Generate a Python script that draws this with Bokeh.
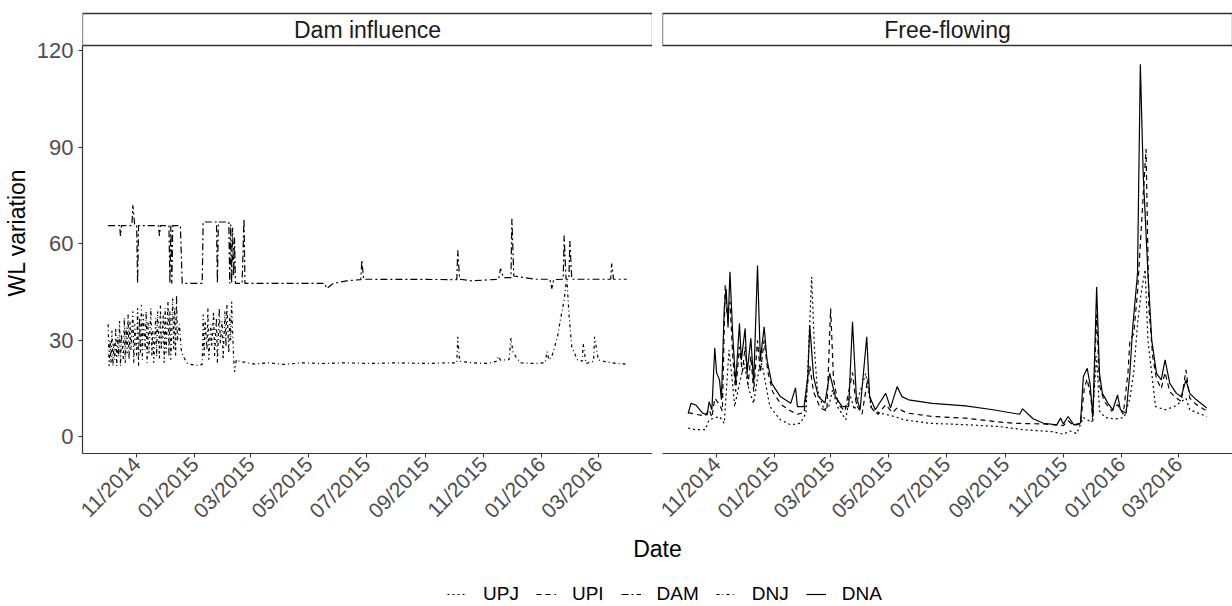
import math
import pandas as pd
from bokeh.plotting import figure
from bokeh.layouts import column, row
from bokeh.models import (Range1d, FixedTicker, DatetimeTickFormatter, Label, BoxAnnotation,
                          Legend, LegendItem, ColumnDataSource)
from bokeh.embed import file_html
from bokeh.resources import INLINE

# ---------------- data ----------------
panels = ["Dam influence", "Free-flowing"]
series_names = ["UPJ", "UPI", "DAM", "DNJ", "DNA"]

tick_dates = ["2014-11-01", "2015-01-01", "2015-03-01", "2015-05-01", "2015-07-01",
              "2015-09-01", "2015-11-01", "2016-01-01", "2016-03-01"]
tick_labels = ["11/2014", "01/2015", "03/2015", "05/2015", "07/2015",
               "09/2015", "11/2015", "01/2016", "03/2016"]
y_ticks = [0, 30, 60, 90, 120]

# Dam influence panel
dam_dates = ["2014-10-02", "2014-10-14", "2014-10-15", "2014-10-16", "2014-10-27", "2014-10-28",
             "2014-10-30", "2014-11-01", "2014-11-02", "2014-11-03", "2014-11-24", "2014-11-25",
             "2014-11-26", "2014-12-05", "2014-12-06", "2014-12-07", "2014-12-08", "2014-12-09",
             "2014-12-17", "2014-12-19", "2015-01-09", "2015-01-10", "2015-01-24", "2015-01-25",
             "2015-01-26", "2015-02-06", "2015-02-07", "2015-02-08", "2015-02-09", "2015-02-10",
             "2015-02-11", "2015-02-12", "2015-02-13", "2015-02-20", "2015-02-22", "2015-02-23",
             "2015-05-18", "2015-05-20", "2015-05-27", "2015-06-10", "2015-06-25", "2015-06-26",
             "2015-06-28", "2015-10-04", "2015-10-05", "2015-10-07", "2015-10-20", "2015-11-17",
             "2015-11-19", "2015-11-22", "2015-11-30", "2015-12-01", "2015-12-03", "2015-12-25",
             "2016-01-10", "2016-01-12", "2016-01-14", "2016-01-24", "2016-01-25", "2016-01-27",
             "2016-01-30", "2016-01-31", "2016-02-02", "2016-03-14", "2016-03-15", "2016-03-17",
             "2016-03-31"]
dam_vals = [65.7, 65.7, 62.5, 65.7, 65.7, 72.0, 65.7, 65.7, 47.7, 65.7, 65.7, 62.5,
            65.7, 65.7, 47.7, 65.7, 47.7, 65.7, 65.7, 47.7, 47.7, 66.8, 66.8, 47.7,
            66.8, 66.8, 47.7, 66.0, 47.7, 65.0, 50.0, 62.0, 47.7, 47.7, 67.8, 47.7,
            47.7, 46.1, 47.7, 48.5, 48.9, 54.9, 49.0, 48.9, 58.0, 49.0, 48.5, 49.0,
            52.3, 49.5, 49.5, 67.8, 50.0, 49.0, 49.0, 46.1, 48.9, 49.0, 62.6, 49.0,
            49.0, 60.9, 49.0, 49.0, 53.9, 49.0, 49.0]

dnj_dates = ["2014-10-02", "2014-10-03", "2014-10-04", "2014-10-05", "2014-10-06", "2014-10-07", "2014-10-08", "2014-10-09", "2014-10-10", "2014-10-11",
             "2014-10-12", "2014-10-13", "2014-10-14", "2014-10-15", "2014-10-16", "2014-10-18", "2014-10-19", "2014-10-20", "2014-10-21", "2014-10-22",
             "2014-10-23", "2014-10-24", "2014-10-25", "2014-10-26", "2014-10-28", "2014-10-29", "2014-10-30", "2014-11-01", "2014-11-02", "2014-11-03",
             "2014-11-04", "2014-11-05", "2014-11-06", "2014-11-07", "2014-11-08", "2014-11-10", "2014-11-11", "2014-11-12", "2014-11-13", "2014-11-14",
             "2014-11-16", "2014-11-17", "2014-11-18", "2014-11-19", "2014-11-21", "2014-11-22", "2014-11-23", "2014-11-25", "2014-11-26", "2014-11-27",
             "2014-11-29", "2014-11-30", "2014-12-01", "2014-12-02", "2014-12-04", "2014-12-05", "2014-12-06", "2014-12-07", "2014-12-09", "2014-12-10",
             "2014-12-11", "2014-12-12", "2014-12-13", "2014-12-14", "2014-12-16", "2014-12-18", "2014-12-20", "2014-12-24", "2014-12-28", "2015-01-05",
             "2015-01-09", "2015-01-10", "2015-01-11", "2015-01-12", "2015-01-14", "2015-01-15", "2015-01-16", "2015-01-18", "2015-01-19", "2015-01-21",
             "2015-01-22", "2015-01-24", "2015-01-25", "2015-01-27", "2015-01-28", "2015-01-30", "2015-01-31", "2015-02-02", "2015-02-03", "2015-02-04",
             "2015-02-06", "2015-02-07", "2015-02-08", "2015-02-09", "2015-02-10", "2015-02-11", "2015-02-12", "2015-02-14", "2015-02-17", "2015-02-22",
             "2015-03-05", "2015-03-20", "2015-04-05", "2015-04-25", "2015-05-15", "2015-06-10", "2015-07-05", "2015-08-01", "2015-09-01", "2015-09-25",
             "2015-10-04", "2015-10-05", "2015-10-07", "2015-10-20", "2015-11-05", "2015-11-15", "2015-11-17", "2015-11-19", "2015-11-28", "2015-11-30",
             "2015-12-02", "2015-12-05", "2015-12-10", "2015-12-25", "2016-01-05", "2016-01-07", "2016-01-09", "2016-01-12", "2016-01-15", "2016-01-18",
             "2016-01-21", "2016-01-25", "2016-01-27", "2016-01-28", "2016-01-30", "2016-02-02", "2016-02-08", "2016-02-13", "2016-02-14", "2016-02-17",
             "2016-02-25", "2016-02-26", "2016-03-01", "2016-03-08", "2016-03-20", "2016-03-31"]
dnj_vals = [35, 22, 30, 23, 33, 22, 29, 24, 34, 22,
            31, 25, 36, 22, 32, 24, 37, 23, 34, 26,
            38, 24, 36, 27, 39, 23, 35, 25, 40, 22,
            37, 26, 41, 24, 38, 27, 39, 23, 36, 26,
            40, 25, 33, 23, 37, 25, 39, 24, 41, 27,
            38, 23, 40, 26, 42, 25, 39, 24, 43, 27,
            40, 25, 44, 30, 35, 27, 25, 23, 22.5, 22.2,
            22.5, 38, 25, 36, 27, 40, 24, 35, 28, 39,
            25, 37, 23, 40, 29, 36, 24, 39, 28, 41,
            26, 38, 30, 42, 33, 25, 20.2, 24, 23.5, 23.2,
            22.6, 23, 22.5, 23, 22.8, 23, 22.8, 23, 22.8, 23,
            23, 31.1, 23.5, 23, 22.8, 23.5, 25, 23.8, 24, 30.7,
            26.5, 25, 23, 22.8, 23, 26.5, 23.9, 25, 28, 31.1,
            36.3, 42.5, 47.7, 48.5, 38.4, 28, 23.9, 23.5, 29, 22.8,
            23.5, 31.1, 23.9, 23.4, 22.8, 22.6]

# Free-flowing panel
upj_dates = ["2014-10-02", "2014-10-10", "2014-10-20", "2014-10-24", "2014-11-04", "2014-11-09", "2014-11-14", "2014-11-16",
             "2014-11-20", "2014-11-25", "2014-11-30", "2014-12-05", "2014-12-10", "2014-12-17", "2014-12-20", "2014-12-27",
             "2015-01-07", "2015-01-18", "2015-01-28", "2015-02-03", "2015-02-09", "2015-02-12", "2015-02-15", "2015-02-22",
             "2015-02-27", "2015-03-03", "2015-03-08", "2015-03-17", "2015-03-21", "2015-03-26", "2015-04-07", "2015-04-13",
             "2015-04-23", "2015-05-07", "2015-05-17", "2015-06-13", "2015-07-25", "2015-08-25", "2015-09-20", "2015-10-20",
             "2015-11-01", "2015-11-08", "2015-11-15", "2015-11-22", "2015-11-26", "2015-12-01", "2015-12-06", "2015-12-09",
             "2015-12-15", "2015-12-25", "2016-01-04", "2016-01-10", "2016-01-14", "2016-01-18", "2016-01-22", "2016-01-26",
             "2016-01-29", "2016-02-02", "2016-02-06", "2016-02-16", "2016-02-26", "2016-03-09", "2016-03-13", "2016-03-31"]
upj_vals = [2.7, 2.2, 2.2, 5.3, 6.3, 4.2, 27.0, 21.8,
            9.4, 16.6, 22.8, 14.6, 10.4, 23.9, 20.8, 9.4,
            5.3, 3.7, 4.2, 7.3, 49.7, 27.0, 14.6, 8.4,
            9.4, 14.6, 9.4, 5.3, 13.5, 8.4, 19.7, 8.4,
            7.3, 6.3, 5.3, 4.2, 3.7, 3.2, 2.2, 1.6,
            0.8, 1.8, 1.0, 6.0, 5.3, 4.5, 25.0, 8.0,
            6.0, 5.5, 6.0, 12.0, 20.0, 35.0, 45.0, 52.0,
            30.0, 19.7, 9.4, 8.4, 9.4, 12.0, 8.4, 6.3]

upi_dates = ["2014-10-02", "2014-10-10", "2014-10-20", "2014-10-24", "2014-10-27", "2014-10-30", "2014-11-04", "2014-11-07",
             "2014-11-10", "2014-11-12", "2014-11-15", "2014-11-18", "2014-11-21", "2014-11-25", "2014-11-28", "2014-12-01",
             "2014-12-04", "2014-12-07", "2014-12-10", "2014-12-14", "2014-12-17", "2014-12-21", "2014-12-25", "2014-12-30",
             "2015-01-08", "2015-01-18", "2015-01-25", "2015-02-01", "2015-02-07", "2015-02-11", "2015-02-18", "2015-02-25",
             "2015-03-01", "2015-03-04", "2015-03-09", "2015-03-16", "2015-03-24", "2015-03-28", "2015-04-03", "2015-04-09",
             "2015-04-13", "2015-04-20", "2015-04-28", "2015-05-05", "2015-05-10", "2015-05-20", "2015-06-16", "2015-07-21",
             "2015-08-19", "2015-09-10", "2015-10-10", "2015-11-01", "2015-11-06", "2015-11-12", "2015-11-19", "2015-11-23",
             "2015-11-26", "2015-11-30", "2015-12-02", "2015-12-06", "2015-12-09", "2015-12-14", "2015-12-22", "2015-12-28",
             "2016-01-03", "2016-01-08", "2016-01-10", "2016-01-14", "2016-01-18", "2016-01-21", "2016-01-24", "2016-01-27",
             "2016-01-30", "2016-02-03", "2016-02-07", "2016-02-12", "2016-02-16", "2016-02-21", "2016-02-28", "2016-03-04",
             "2016-03-09", "2016-03-13", "2016-03-20", "2016-03-31"]
upi_vals = [7.5, 7.0, 6.5, 8.5, 6.0, 12.0, 10.0, 8.0,
            47.1, 38.0, 42.0, 25.0, 14.0, 28.0, 20.0, 28.0,
            16.0, 25.0, 14.0, 30.0, 20.0, 30.0, 20.0, 14.0,
            10.0, 8.0, 7.0, 7.5, 22.0, 14.0, 9.0, 8.0,
            39.9, 18.0, 10.0, 8.0, 20.0, 10.0, 7.0, 18.0,
            9.0, 7.0, 10.0, 7.5, 9.0, 7.4, 6.3, 5.8,
            4.8, 4.2, 4.0, 3.5, 5.0, 3.5, 4.0, 15.0,
            18.0, 12.0, 5.0, 38.0, 16.0, 11.0, 8.0, 10.0,
            7.0, 20.0, 30.0, 32.0, 45.0, 60.0, 75.0, 89.5,
            40.0, 25.0, 18.0, 15.0, 20.0, 14.0, 12.0, 11.0,
            20.8, 12.0, 10.0, 8.0]

dna_dates = ["2014-10-02", "2014-10-05", "2014-10-10", "2014-10-17", "2014-10-22", "2014-10-24", "2014-10-27", "2014-10-30",
             "2014-11-01", "2014-11-04", "2014-11-06", "2014-11-09", "2014-11-11", "2014-11-13", "2014-11-15", "2014-11-18",
             "2014-11-21", "2014-11-25", "2014-11-27", "2014-12-01", "2014-12-03", "2014-12-07", "2014-12-10", "2014-12-14",
             "2014-12-17", "2014-12-21", "2014-12-24", "2014-12-29", "2015-01-07", "2015-01-18", "2015-01-23", "2015-01-25",
             "2015-02-01", "2015-02-05", "2015-02-07", "2015-02-11", "2015-02-16", "2015-02-23", "2015-02-28", "2015-03-06",
             "2015-03-13", "2015-03-20", "2015-03-24", "2015-03-28", "2015-04-01", "2015-04-08", "2015-04-11", "2015-04-17",
             "2015-04-28", "2015-05-03", "2015-05-10", "2015-05-15", "2015-05-22", "2015-06-16", "2015-07-21", "2015-08-19",
             "2015-09-16", "2015-09-19", "2015-09-30", "2015-10-11", "2015-10-25", "2015-10-29", "2015-11-01", "2015-11-06",
             "2015-11-12", "2015-11-19", "2015-11-22", "2015-11-26", "2015-11-29", "2015-12-02", "2015-12-06", "2015-12-09",
             "2015-12-12", "2015-12-18", "2015-12-23", "2015-12-28", "2015-12-31", "2016-01-06", "2016-01-10", "2016-01-13",
             "2016-01-18", "2016-01-21", "2016-01-24", "2016-01-29", "2016-02-02", "2016-02-07", "2016-02-12", "2016-02-16",
             "2016-02-21", "2016-02-28", "2016-03-04", "2016-03-09", "2016-03-13", "2016-03-20", "2016-03-27", "2016-03-31"]
dna_vals = [7.3, 10.4, 9.9, 7.4, 6.8, 10.9, 8.4, 27.6,
            19.8, 17.7, 11.5, 40.0, 46.0, 34.0, 51.3, 31.1,
            16.7, 35.3, 23.9, 33.7, 19.8, 30.6, 16.7, 53.3,
            23.9, 34.2, 23.9, 16.6, 12.5, 10.4, 15.2, 9.4,
            9.4, 18.7, 34.7, 18.7, 12.5, 10.5, 19.7, 12.5,
            9.4, 9.4, 35.8, 12.5, 8.4, 31.1, 12.5, 8.4,
            13.5, 9.0, 15.6, 12.5, 11.5, 10.4, 9.6, 8.4,
            7.0, 8.7, 5.6, 4.2, 3.7, 5.8, 4.0, 6.3,
            3.7, 4.3, 18.7, 21.3, 16.6, 6.3, 46.6, 19.7,
            13.5, 10.4, 8.4, 13.0, 8.4, 7.3, 20.0, 34.2,
            50.8, 115.9, 81.8, 50.8, 30.0, 19.7, 17.7, 23.9,
            16.6, 13.5, 12.5, 17.7, 13.5, 11.5, 9.9, 8.9]

for d, v in [(dam_dates, dam_vals), (dnj_dates, dnj_vals), (upj_dates, upj_vals),
             (upi_dates, upi_vals), (dna_dates, dna_vals)]:
    assert len(d) == len(v), (len(d), len(v))

# ---------------- styles ----------------
FONT = "Liberation Sans"
DASH = {"UPJ": "2 3", "UPI": "5 4", "DAM": "7 3 2 3", "DNJ": "3 3 1 3", "DNA": "solid"}
LW = 1.2
AXIS_COL = "#333333"
TICK_TXT = "#4d4d4d"

PANEL_H = 408          # plotting area height (px)
STRIP_H = 32           # facet strip height (px)
PAD = 2                # extra px above strip so its top border is not clipped
Y_LO, Y_HI = -5.2, 121.7
PX = (Y_HI - Y_LO) / PANEL_H
Y_STRIP = Y_HI + STRIP_H * PX
Y_TOP = Y_STRIP + PAD * PX

def ms(s):
    return pd.Timestamp(s).value // 10**6

x_lo, x_hi = ms("2014-09-05"), ms("2016-04-27")
tick_ms = [ms(d) for d in tick_dates]

def make_panel(title, left_border, show_y, series):
    p = figure(frame_width=570, frame_height=PANEL_H + STRIP_H + PAD, x_axis_type="datetime",
               x_range=Range1d(x_lo, x_hi), y_range=Range1d(Y_LO, Y_TOP),
               min_border_left=left_border, min_border_right=0,
               min_border_top=13 - PAD, min_border_bottom=80,
               y_axis_location="left" if show_y else None,
               output_backend="svg", toolbar_location=None)
    p.outline_line_color = None
    p.grid.visible = False
    p.background_fill_color = "white"
    p.border_fill_color = "white"
    for name, dts, vals in series:
        src = ColumnDataSource(dict(x=pd.to_datetime(dts), y=vals))
        p.line("x", "y", source=src, line_color="black", line_width=LW,
               line_dash=DASH[name])
    # facet strip
    p.add_layout(BoxAnnotation(bottom=Y_HI, top=Y_STRIP, fill_color="white", fill_alpha=1.0,
                               line_color=AXIS_COL, line_alpha=1.0, line_width=1.3))
    p.add_layout(Label(x=(x_lo + x_hi) / 2, y=(Y_HI + Y_STRIP) / 2, text=title,
                       text_align="center", text_baseline="middle",
                       text_font=FONT, text_font_size="23px", text_color="#1a1a1a"))
    xa = p.xaxis[0]
    xa.ticker = FixedTicker(ticks=tick_ms)
    xa.formatter = DatetimeTickFormatter(days="%m/%Y", months="%m/%Y", years="%m/%Y")
    xa.major_label_overrides = {t: lab for t, lab in zip(tick_ms, tick_labels)}
    xa.major_label_orientation = math.pi / 4
    xa.minor_tick_line_color = None
    xa.major_tick_out = 4
    xa.major_tick_in = 0
    xa.major_label_standoff = 3
    xa.axis_line_color = AXIS_COL
    xa.axis_line_width = 1.2
    xa.major_tick_line_color = AXIS_COL
    xa.major_label_text_font = FONT
    xa.major_label_text_font_size = "21px"
    xa.major_label_text_color = TICK_TXT
    if show_y:
        ya = p.yaxis[0]
        ya.ticker = FixedTicker(ticks=y_ticks)
        ya.bounds = (Y_LO, Y_HI)
        ya.minor_tick_line_color = None
        ya.major_tick_out = 4
        ya.major_tick_in = 0
        ya.major_label_standoff = 5
        ya.axis_line_color = AXIS_COL
        ya.axis_line_width = 1.2
        ya.major_tick_line_color = AXIS_COL
        ya.major_label_text_font = FONT
        ya.major_label_text_font_size = "22px"
        ya.major_label_text_color = TICK_TXT
        ya.axis_label = "WL variation"
        ya.axis_label_text_font = FONT
        ya.axis_label_text_font_size = "23px"
        ya.axis_label_text_font_style = "normal"
        ya.axis_label_text_color = "black"
        ya.axis_label_standoff = 4
    return p

left = make_panel(panels[0], 82, True, [("DAM", dam_dates, dam_vals), ("DNJ", dnj_dates, dnj_vals)])
right = make_panel(panels[1], 10, False, [("UPJ", upj_dates, upj_vals), ("UPI", upi_dates, upi_vals),
                                          ("DNA", dna_dates, dna_vals)])

# bottom: axis title + legend
b = figure(frame_width=1232, frame_height=73, x_range=Range1d(0, 1232), y_range=Range1d(0, 73),
           min_border=0, x_axis_location=None, y_axis_location=None,
           output_backend="svg", toolbar_location=None)
b.grid.visible = False
b.outline_line_color = None
b.add_layout(Label(x=657, y=58, text="Date", text_align="center", text_baseline="middle",
                   text_font=FONT, text_font_size="23px", text_color="black"))
items = []
for name in series_names:
    r = b.line(x=[float("nan")], y=[float("nan")], line_color="black", line_width=LW,
               line_dash=DASH[name])
    items.append(LegendItem(label=name, renderers=[r]))
leg = Legend(items=items, orientation="horizontal", location=(447, 1),
             glyph_width=20, glyph_height=20, label_standoff=16, spacing=17,
             padding=0, margin=0, border_line_color=None, background_fill_alpha=0,
             label_text_font=FONT, label_text_font_size="19px", label_text_color="black")
b.add_layout(leg)

layout = column(row(left, right), b)
open("out.html", "w").write(file_html(layout, INLINE))
